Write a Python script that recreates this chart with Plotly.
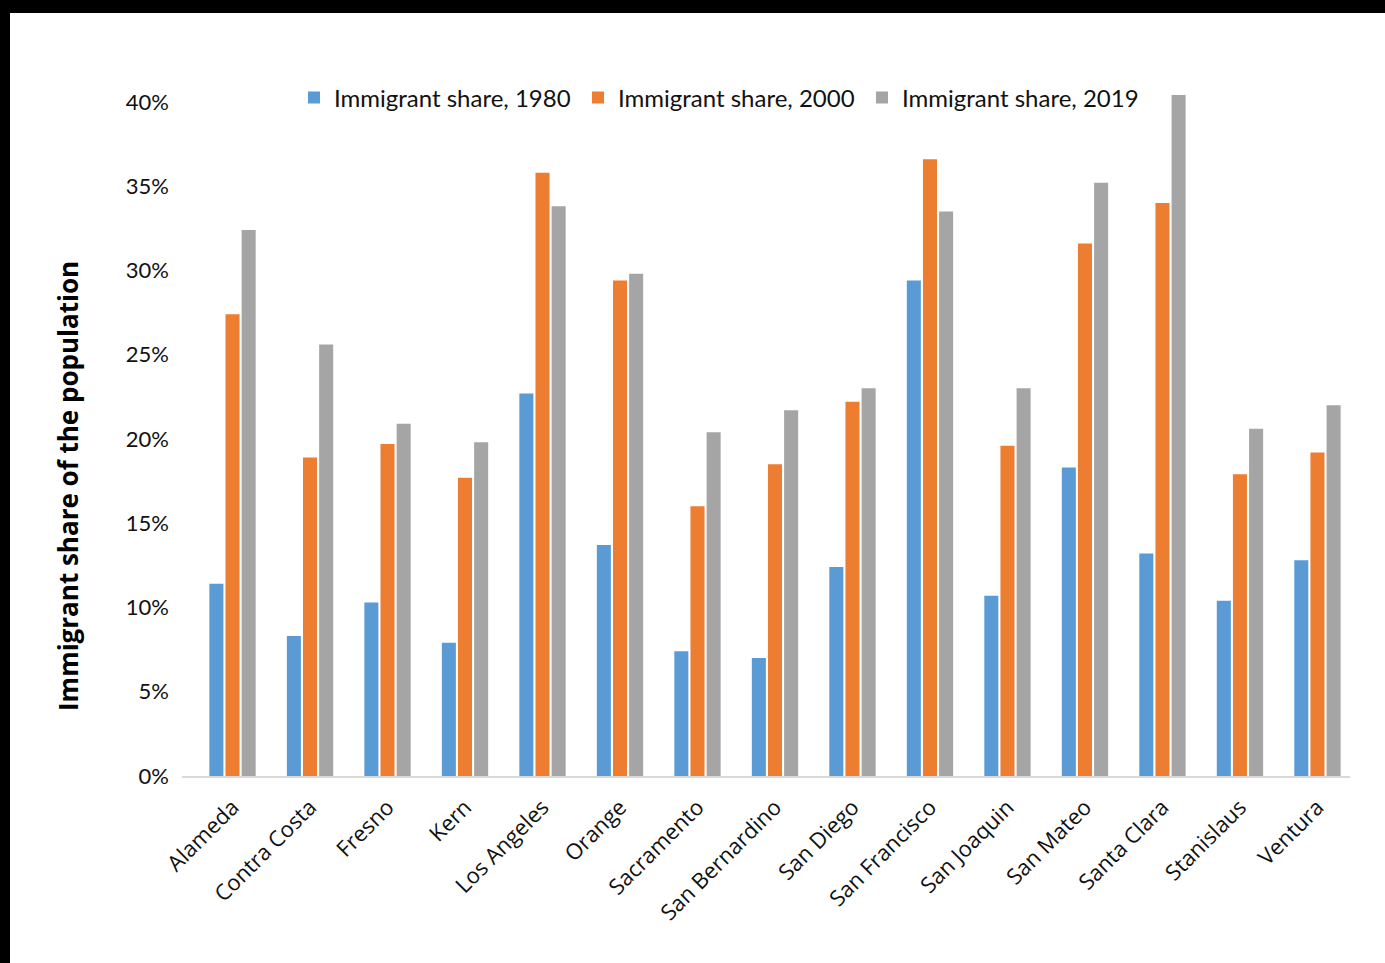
import plotly.graph_objects as go

# County list and immigrant shares of the population (fractions)
counties = [
    "Alameda", "Contra Costa", "Fresno", "Kern", "Los Angeles", "Orange",
    "Sacramento", "San Bernardino", "San Diego", "San Francisco",
    "San Joaquin", "San Mateo", "Santa Clara", "Stanislaus", "Ventura",
]
share_1980 = [0.114, 0.083, 0.103, 0.079, 0.227, 0.137, 0.074, 0.070,
              0.124, 0.294, 0.107, 0.183, 0.132, 0.104, 0.128]
share_2000 = [0.274, 0.189, 0.197, 0.177, 0.358, 0.294, 0.160, 0.185,
              0.222, 0.366, 0.196, 0.316, 0.340, 0.179, 0.192]
share_2019 = [0.324, 0.256, 0.209, 0.198, 0.338, 0.298, 0.204, 0.217,
              0.230, 0.335, 0.230, 0.352, 0.404, 0.206, 0.220]

series_names = ["Immigrant share, 1980", "Immigrant share, 2000", "Immigrant share, 2019"]
series_values = [share_1980, share_2000, share_2019]
series_colors = ["#5B9BD5", "#ED7D31", "#A5A5A5"]

y_ticks = [0, 0.05, 0.10, 0.15, 0.20, 0.25, 0.30, 0.35, 0.40]
y_tick_text = ["0%", "5%", "10%", "15%", "20%", "25%", "30%", "35%", "40%"]
y_top = 0.41

W, H = 1385, 963
BASE_Y = 776            # pixel row of the 0% baseline
PX_PER_UNIT = 674 / 0.4  # vertical pixels per unit of share
ML, MR, MB = 182, 35, H - BASE_Y
MT = int(round(BASE_Y - y_top * PX_PER_UNIT))
PW, PH = W - ML - MR, H - MT - MB

fig = go.Figure()
for name, vals, col in zip(series_names, series_values, series_colors):
    fig.add_trace(go.Bar(
        x=counties, y=vals, name=name,
        marker=dict(color=col, line=dict(width=0)),
    ))


def px_x(p):
    return (p - ML) / PW


def px_y(p):
    return (H - MB - p) / PH


# dark frame along the top and left edges of the page
frame = [
    dict(type="rect", xref="paper", yref="paper",
         x0=px_x(0), x1=px_x(W), y0=px_y(13), y1=px_y(0),
         fillcolor="black", line=dict(width=0), layer="above"),
    dict(type="rect", xref="paper", yref="paper",
         x0=px_x(0), x1=px_x(10), y0=px_y(H), y1=px_y(0),
         fillcolor="black", line=dict(width=0), layer="above"),
]

fig.update_layout(
    width=W, height=H,
    margin=dict(l=ML, r=MR, t=MT, b=MB, pad=0),
    paper_bgcolor="white", plot_bgcolor="white",
    barmode="group", bargap=0.375, bargroupgap=0.13,
    shapes=frame,
    showlegend=True,
    legend=dict(
        orientation="h", x=px_x(294), xanchor="left",
        y=px_y(98), yanchor="middle",
        font=dict(family="Lato", size=24, color="#111"),
        entrywidth=239, bgcolor="rgba(0,0,0,0)",
    ),
    annotations=[dict(
        text="Immigrant share of the population",
        xref="paper", yref="paper", x=px_x(68), y=px_y(486),
        xanchor="center", yanchor="middle", textangle=-90, showarrow=False,
        font=dict(family="Open Sans", size=26, color="black", weight="bold"),
    )],
    xaxis=dict(
        range=[-0.652, 14.42], showgrid=False, showline=True,
        linecolor="#D9D9D9", linewidth=1.5, ticks="", tickangle=-45,
        ticklabelstandoff=8,
        tickfont=dict(family="Open Sans", size=22, color="#111"),
        zeroline=False,
    ),
    yaxis=dict(
        range=[0, y_top], tickvals=y_ticks, ticktext=y_tick_text,
        showgrid=False, showline=False, zeroline=False, ticks="",
        ticklabelstandoff=12,
        tickfont=dict(family="Lato", size=22, color="#111"),
    ),
)

fig.write_html("out.html")
